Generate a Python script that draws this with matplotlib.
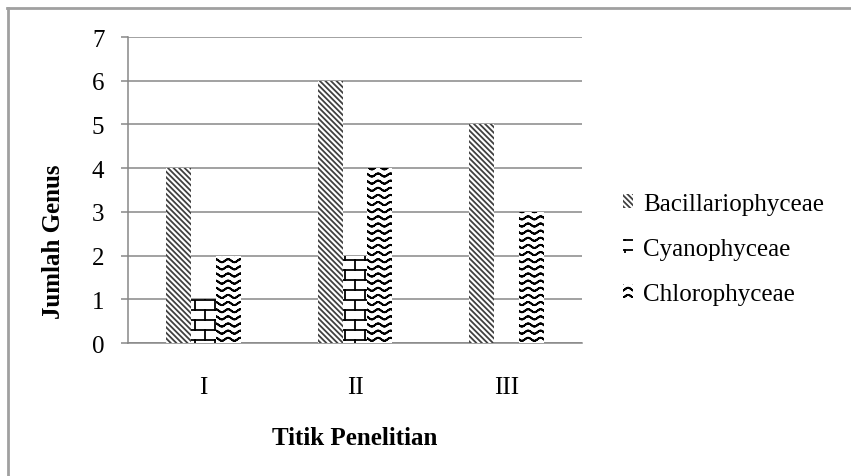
import warnings
import numpy as np
import matplotlib
matplotlib.use('Agg')
import matplotlib.pyplot as plt
import matplotlib.hatch as mhatch
from matplotlib.path import Path
from matplotlib.lines import Line2D

warnings.filterwarnings('ignore')   # hatch 'b' dan 'w' buatan sendiri

# data
titik = ['I', 'II', 'III']
kelas = ['Bacillariophyceae', 'Cyanophyceae', 'Chlorophyceae']
bacillariophyceae = [4, 6, 5]
cyanophyceae = [1, 2, 0]
chlorophyceae = [2, 4, 3]


class BrickHatch(mhatch.HatchPatternBase):
    # pola batu bata: 10 baris, 5 bata per satuan hatch
    def __init__(self, hatch, density):
        self.rows = 10 if 'b' in hatch else 0
        self.cols = 5
        self.num_vertices = (self.rows + 1 + self.rows * self.cols) * 2 if self.rows else 0

    def set_vertices_and_codes(self, vertices, codes):
        h = 1.0 / self.rows
        w = 1.0 / self.cols
        segs = []
        for r in range(self.rows + 1):
            segs.append(((0.0, r * h), (1.0, r * h)))
        for r in range(self.rows):
            for c in range(self.cols):
                xv = (c + 0.25 + 0.5 * (r % 2)) * w
                segs.append(((xv, r * h), (xv, (r + 1) * h)))
        segs = np.array(segs)
        vertices[0::2] = segs[:, 0]
        vertices[1::2] = segs[:, 1]
        codes[0::2] = Path.MOVETO
        codes[1::2] = Path.LINETO


class WaveHatch(mhatch.HatchPatternBase):
    # pola gelombang
    def __init__(self, hatch, density):
        self.rows = 14 if 'w' in hatch else 0
        self.waves = 8
        self.steps = self.waves * 10
        self.num_vertices = self.rows * self.steps * 2

    def set_vertices_and_codes(self, vertices, codes):
        xs = np.linspace(0.0, 1.0, self.steps + 1)
        pts = []
        for r in range(self.rows):
            ys = (r + 0.5) / self.rows + 0.015 * np.sin(2 * np.pi * self.waves * xs)
            p = np.column_stack([xs, ys])
            pts.append(np.stack([p[:-1], p[1:]], axis=1))
        pts = np.concatenate(pts)
        vertices[0::2] = pts[:, 0]
        vertices[1::2] = pts[:, 1]
        codes[0::2] = Path.MOVETO
        codes[1::2] = Path.LINETO


mhatch._hatch_types.extend([BrickHatch, WaveHatch])

plt.rcParams['font.family'] = ['Liberation Serif', 'DejaVu Serif']
plt.rcParams['hatch.linewidth'] = 1.3

fig = plt.figure(figsize=(8.51, 4.77), dpi=100)
ax = fig.add_axes([0.1504, 0.2788, 0.5335, 0.6415])

grid_c = '#878787'
x = np.arange(len(titik))
bw = 0.165
series = [bacillariophyceae, cyanophyceae, chlorophyceae]
hatches = ['\\' * 6, 'b', 'w']
ecol = ['#404040', 'black', 'black']

for i, vals in enumerate(series):
    ax.bar(x + (i - 1) * bw, vals, bw, color='white', edgecolor=ecol[i],
           linewidth=0, hatch=hatches[i], label=kelas[i], zorder=3)

ax.set_xlim(-0.5, 2.5)
ax.set_ylim(0, 7)
ax.set_yticks(range(8))
ax.set_xticks(x)
ax.set_xticklabels(titik)

ax.yaxis.grid(True, color=grid_c, linewidth=1.1, zorder=0)
ax.set_axisbelow(True)
for s in ['top', 'right']:
    ax.spines[s].set_visible(False)
for s in ['left', 'bottom']:
    ax.spines[s].set_color(grid_c)
    ax.spines[s].set_linewidth(1.1)

ax.tick_params(axis='y', length=5, width=1.1, color=grid_c, pad=12, labelsize=18)
ax.tick_params(axis='x', length=0, pad=24, labelsize=18)

ax.set_xlabel('Titik Penelitian', fontsize=18, fontweight='bold', labelpad=20)
ax.set_ylabel('Jumlah Genus', fontsize=18, fontweight='bold', va='center')
ax.yaxis.set_label_coords(-0.165, 0.333)

fig.legend(loc='center left', bbox_to_anchor=(0.732, 0.476), frameon=False,
           fontsize=18, handlelength=0.4, handleheight=0.5, handletextpad=0.4,
           labelspacing=0.92, borderpad=0, borderaxespad=0)

# bingkai luar
bc = '#a0a0a0'
fig.add_artist(Line2D([7 / 851, 1], [1 - 9 / 477, 1 - 9 / 477], transform=fig.transFigure, color=bc, lw=2))
fig.add_artist(Line2D([8 / 851, 8 / 851], [0, 1 - 9 / 477], transform=fig.transFigure, color=bc, lw=2))

fig.savefig('out.png', dpi=100)
